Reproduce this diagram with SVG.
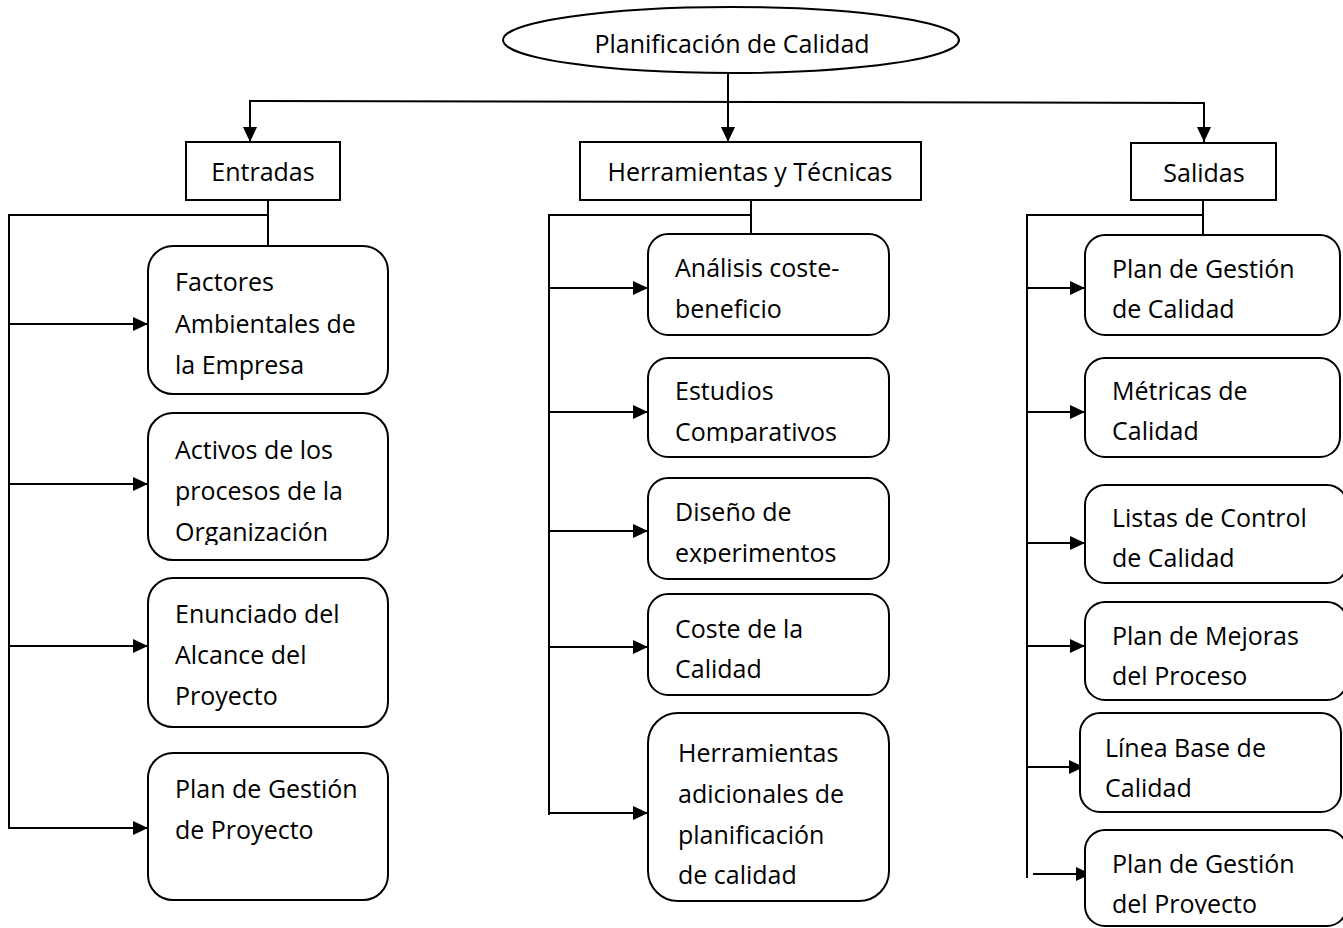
<svg xmlns="http://www.w3.org/2000/svg" width="1343" height="928" viewBox="0 0 1343 928">
<style>
  .box{fill:#fff;stroke:#000;stroke-width:2}
  .ln{fill:none;stroke:#000;stroke-width:2}
  .t{font-family:"Open Sans","Liberation Sans",sans-serif;font-size:25px;fill:#000}
  .c{text-anchor:middle}
</style>
<defs>
  <marker id="ah" markerUnits="userSpaceOnUse" markerWidth="16" markerHeight="15" refX="15" refY="7" orient="auto">
    <path d="M0,0 L15,7 L0,14 z" fill="#000"/>
  </marker>
  <clipPath id="cOrg"><rect x="150" y="400" width="240" height="145"/></clipPath>
  <clipPath id="cComp"><rect x="650" y="350" width="240" height="93"/></clipPath>
  <clipPath id="cExp"><rect x="650" y="470" width="240" height="94"/></clipPath>
  <clipPath id="cCal"><rect x="650" y="700" width="240" height="184"/></clipPath>
  <clipPath id="cPro"><rect x="1085" y="820" width="260" height="94"/></clipPath>
</defs>
<rect width="1343" height="928" fill="#fff"/>

<g id="connectors">
  <line class="ln" x1="728" y1="72" x2="728" y2="142" marker-end="url(#ah)"/>
  <path class="ln" d="M250,101 L1204,103"/>
  <line class="ln" x1="250" y1="100" x2="250" y2="142" marker-end="url(#ah)"/>
  <line class="ln" x1="1204" y1="102" x2="1204" y2="142" marker-end="url(#ah)"/>
  <!-- Entradas -->
  <path class="ln" d="M268,200 L268,246 M268,215 L9,215 L9,829"/>
  <line class="ln" x1="9" y1="324" x2="148" y2="324" marker-end="url(#ah)"/>
  <line class="ln" x1="9" y1="484" x2="148" y2="484" marker-end="url(#ah)"/>
  <line class="ln" x1="9" y1="646" x2="148" y2="646" marker-end="url(#ah)"/>
  <line class="ln" x1="9" y1="828" x2="148" y2="828" marker-end="url(#ah)"/>
  <!-- Herramientas -->
  <path class="ln" d="M751,200 L751,234 M751,215 L549,215 L549,815"/>
  <line class="ln" x1="549" y1="288" x2="648" y2="288" marker-end="url(#ah)"/>
  <line class="ln" x1="549" y1="412" x2="648" y2="412" marker-end="url(#ah)"/>
  <line class="ln" x1="549" y1="531" x2="648" y2="531" marker-end="url(#ah)"/>
  <line class="ln" x1="549" y1="647" x2="648" y2="647" marker-end="url(#ah)"/>
  <line class="ln" x1="549" y1="813" x2="648" y2="813" marker-end="url(#ah)"/>
  <!-- Salidas -->
  <path class="ln" d="M1203,200 L1203,235 M1203,215 L1027,215 L1027,878"/>
  <line class="ln" x1="1027" y1="288" x2="1085" y2="288" marker-end="url(#ah)"/>
  <line class="ln" x1="1027" y1="412" x2="1085" y2="412" marker-end="url(#ah)"/>
  <line class="ln" x1="1027" y1="543" x2="1085" y2="543" marker-end="url(#ah)"/>
  <line class="ln" x1="1027" y1="646" x2="1085" y2="646" marker-end="url(#ah)"/>
  <line class="ln" x1="1027" y1="767" x2="1084" y2="767" marker-end="url(#ah)"/>
  <line class="ln" x1="1033" y1="874" x2="1091" y2="874" marker-end="url(#ah)"/>
</g>

<g id="root">
  <ellipse class="box" cx="731" cy="40" rx="228" ry="33"/>
  <text class="t c" x="732" y="53">Planificación de Calidad</text>
</g>

<g id="entradas">
  <rect class="box" x="186" y="142" width="154" height="58"/>
  <text class="t c" x="263" y="181">Entradas</text>
</g>
<g id="herramientas">
  <rect class="box" x="580" y="142" width="341" height="58"/>
  <text class="t c" x="750" y="181">Herramientas y Técnicas</text>
</g>
<g id="salidas">
  <rect class="box" x="1131" y="143" width="145" height="57"/>
  <text class="t c" x="1204" y="182">Salidas</text>
</g>

<g id="factores">
  <rect class="box" x="148" y="246" width="240" height="148" rx="25"/>
  <text class="t" x="175" y="291">Factores</text>
  <text class="t" x="175" y="333">Ambientales de</text>
  <text class="t" x="175" y="374">la Empresa</text>
</g>
<g id="activos">
  <rect class="box" x="148" y="413" width="240" height="147" rx="25"/>
  <text class="t" x="175" y="459">Activos de los</text>
  <text class="t" x="175" y="500">procesos de la</text>
  <text class="t" x="175" y="541" clip-path="url(#cOrg)">Organización</text>
</g>
<g id="enunciado">
  <rect class="box" x="148" y="578" width="240" height="149" rx="25"/>
  <text class="t" x="175" y="623">Enunciado del</text>
  <text class="t" x="175" y="664">Alcance del</text>
  <text class="t" x="175" y="705">Proyecto</text>
</g>
<g id="plan-gestion-proyecto">
  <rect class="box" x="148" y="753" width="240" height="147" rx="25"/>
  <text class="t" x="175" y="798">Plan de Gestión</text>
  <text class="t" x="175" y="839">de Proyecto</text>
</g>

<g id="analisis">
  <rect class="box" x="648" y="234" width="241" height="101" rx="20"/>
  <text class="t" x="675" y="277">Análisis coste-</text>
  <text class="t" x="675" y="318">beneficio</text>
</g>
<g id="estudios">
  <rect class="box" x="648" y="358" width="241" height="99" rx="20"/>
  <text class="t" x="675" y="400">Estudios</text>
  <text class="t" x="675" y="441" clip-path="url(#cComp)">Comparativos</text>
</g>
<g id="diseno">
  <rect class="box" x="648" y="478" width="241" height="101" rx="20"/>
  <text class="t" x="675" y="521">Diseño de</text>
  <text class="t" x="675" y="562" clip-path="url(#cExp)">experimentos</text>
</g>
<g id="coste">
  <rect class="box" x="648" y="594" width="241" height="101" rx="20"/>
  <text class="t" x="675" y="638">Coste de la</text>
  <text class="t" x="675" y="678">Calidad</text>
</g>
<g id="herramientas-adicionales">
  <rect class="box" x="648" y="713" width="241" height="188" rx="30"/>
  <text class="t" x="678" y="762">Herramientas</text>
  <text class="t" x="678" y="803">adicionales de</text>
  <text class="t" x="678" y="844">planificación</text>
  <text class="t" x="678" y="884" clip-path="url(#cCal)">de calidad</text>
</g>

<g id="plan-gestion-calidad">
  <rect class="box" x="1085" y="235" width="255" height="100" rx="20"/>
  <text class="t" x="1112" y="278">Plan de Gestión</text>
  <text class="t" x="1112" y="318">de Calidad</text>
</g>
<g id="metricas">
  <rect class="box" x="1085" y="358" width="255" height="99" rx="20"/>
  <text class="t" x="1112" y="400">Métricas de</text>
  <text class="t" x="1112" y="440">Calidad</text>
</g>
<g id="listas">
  <rect class="box" x="1085" y="485" width="262" height="98" rx="20"/>
  <text class="t" x="1112" y="527">Listas de Control</text>
  <text class="t" x="1112" y="567">de Calidad</text>
</g>
<g id="mejoras">
  <rect class="box" x="1085" y="602" width="262" height="98" rx="20"/>
  <text class="t" x="1112" y="645">Plan de Mejoras</text>
  <text class="t" x="1112" y="685">del Proceso</text>
</g>
<g id="linea-base">
  <rect class="box" x="1080" y="713" width="261" height="99" rx="20"/>
  <text class="t" x="1105" y="757">Línea Base de</text>
  <text class="t" x="1105" y="797">Calidad</text>
</g>
<g id="plan-gestion-del-proyecto">
  <rect class="box" x="1085" y="830" width="262" height="96" rx="20"/>
  <text class="t" x="1112" y="873">Plan de Gestión</text>
  <text class="t" x="1112" y="913" clip-path="url(#cPro)">del Proyecto</text>
</g>
</svg>
